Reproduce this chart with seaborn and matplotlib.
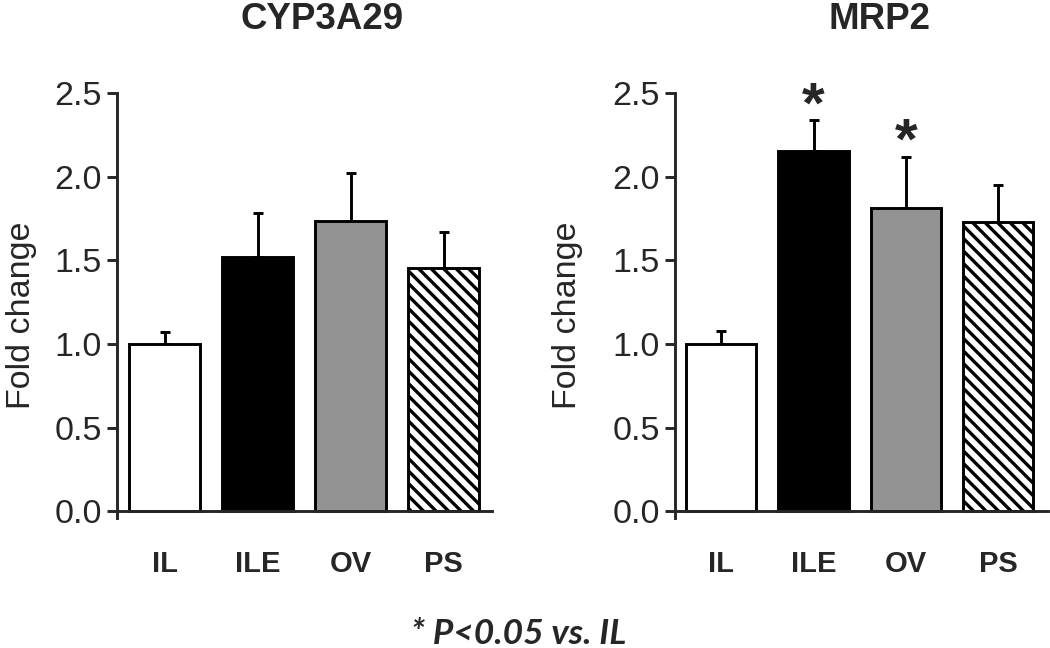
import numpy as np
import seaborn as sns
import matplotlib.pyplot as plt

groups = ['IL', 'ILE', 'OV', 'PS']
bar_colors = ['white', 'black', '#939393', 'white']

cyp_mean = [1.00, 1.52, 1.735, 1.455]
cyp_err = [0.07, 0.26, 0.285, 0.215]

mrp_mean = [1.00, 2.155, 1.81, 1.73]
mrp_err = [0.075, 0.185, 0.31, 0.22]
mrp_sig = [False, True, True, False]

y_ticks = [0.0, 0.5, 1.0, 1.5, 2.0, 2.5]

sns.set_style('ticks')
plt.rcParams['font.family'] = ['Liberation Sans', 'DejaVu Sans']
plt.rcParams['hatch.linewidth'] = 1.6
plt.rcParams['hatch.color'] = 'black'

fig = plt.figure(figsize=(7, 4.32), dpi=150)
ax1 = fig.add_axes([0.1114, 0.2006, 0.3571, 0.6559])
ax2 = fig.add_axes([0.6429, 0.2006, 0.3552, 0.6559])


def draw_panel(ax, means, errs, title, xlim, label_x, sig=None):
    sns.barplot(x=groups, y=means, hue=groups, palette=bar_colors, legend=False,
                width=0.76, saturation=1, edgecolor='black', linewidth=1.4, ax=ax)
    ax.patches[3].set_hatch('\\\\\\\\')
    pos = np.arange(len(groups))
    ax.errorbar(pos, means, yerr=[np.zeros(len(errs)), errs], fmt='none',
                ecolor='black', elinewidth=1.4, capsize=2.4, capthick=1.4, zorder=0.9)
    if sig is not None:
        for p, m, e, s in zip(pos, means, errs, sig):
            if s:
                ax.text(p, m + e + 0.075, '*', ha='center', va='center',
                        fontsize=28, fontweight='bold')
    ax.set_xlim(xlim)
    ax.set_ylim(-0.04, 2.5)
    ax.set_yticks(y_ticks)
    ax.set_yticklabels([f'{t:.1f}' for t in y_ticks])
    ax.spines['top'].set_visible(False)
    ax.spines['right'].set_visible(False)
    ax.spines['left'].set_linewidth(1.4)
    ax.spines['bottom'].set_linewidth(1.4)
    ax.spines['bottom'].set_position(('data', 0))
    ax.tick_params(axis='y', length=4.8, width=1.4, labelsize=16.3, pad=2.5)
    ax.tick_params(axis='x', length=0, labelsize=14, pad=18.5)
    for lab in ax.get_xticklabels():
        lab.set_fontweight('bold')
    ax.set_xlabel('')
    ax.set_ylabel('Fold change', fontsize=16.3)
    ax.yaxis.set_label_coords(label_x, 0.478)
    ax.text(0.548, 1 + (93 - 29) / 425, title, transform=ax.transAxes,
            ha='center', va='baseline', fontsize=17.6, fontweight='bold')


draw_panel(ax1, cyp_mean, cyp_err, 'CYP3A29', (-0.513, 3.52), -0.213)
draw_panel(ax2, mrp_mean, mrp_err, 'MRP2', (-0.50, 3.54), -0.247, sig=mrp_sig)

fig.text(0.494, 0.006, '* P<0.05 vs. IL', ha='center', va='baseline',
         fontsize=17, fontweight='bold', style='italic', family=['Lato', 'DejaVu Sans'])

plt.savefig('out.png', dpi=150)
